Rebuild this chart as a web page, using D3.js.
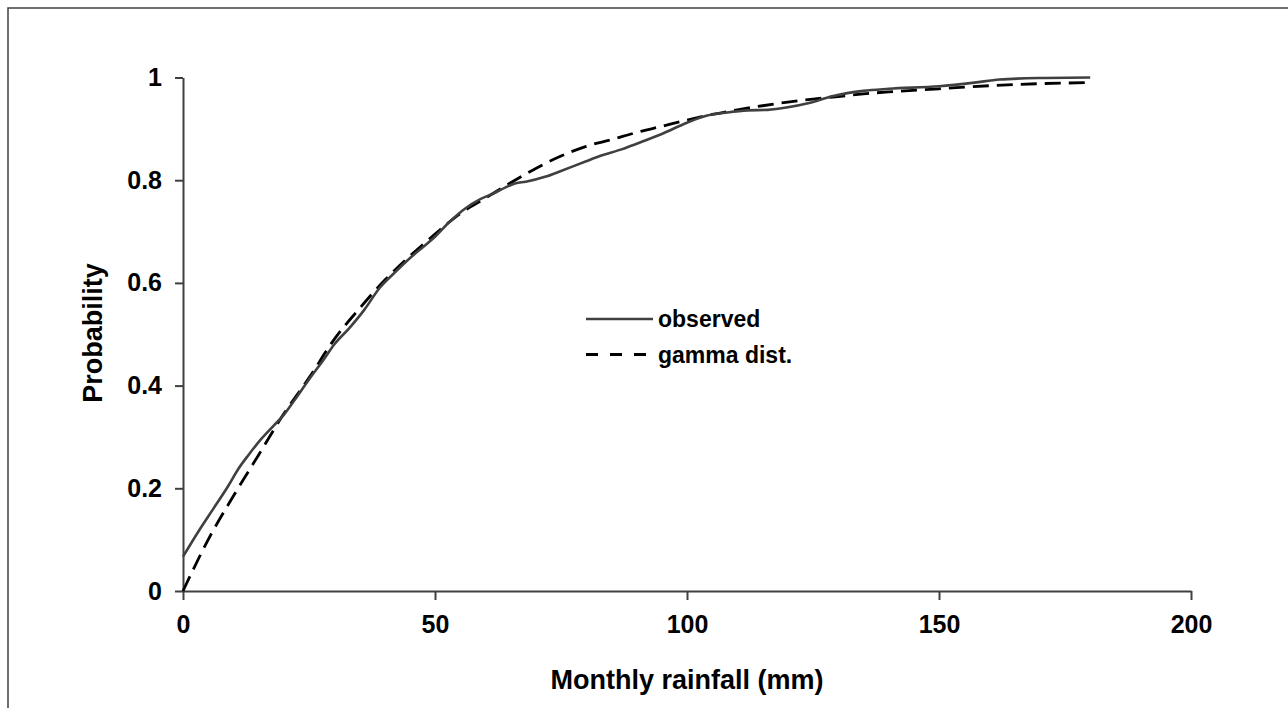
<!DOCTYPE html>
<html>
<head>
<meta charset="utf-8">
<script src="https://cdn.jsdelivr.net/npm/d3@7"></script>
<style>
  body { margin: 0; background: #fff; }
  svg { display: block; font-family: "Liberation Sans", Arial, sans-serif; }
</style>
</head>
<body>
<svg width="1288" height="708"></svg>
<script>
// monthly rainfall (mm) vs cumulative probability
var obsRain = [0, 3, 6, 9, 11, 13, 15, 18, 20, 22, 25, 28, 30, 33, 36, 39, 42, 45, 48, 50,
  53, 56, 59, 62, 64, 66, 68, 72, 75, 80, 83, 87, 90, 95, 100, 104, 108, 112, 116, 120,
  124, 129, 135, 140, 150, 157, 162, 170, 180];
var obsProb = [0.067, 0.115, 0.16, 0.205, 0.238, 0.265, 0.29, 0.322, 0.343, 0.37, 0.412, 0.452, 0.48, 0.512, 0.548, 0.59, 0.62, 0.648, 0.673, 0.69,
  0.72, 0.745, 0.763, 0.776, 0.786, 0.794, 0.797, 0.807, 0.818, 0.837, 0.848, 0.86, 0.871, 0.89, 0.912, 0.926, 0.932, 0.936, 0.937, 0.942,
  0.95, 0.964, 0.974, 0.978, 0.983, 0.99, 0.996, 0.999, 1.0];

var gamRain = [0, 5, 10, 15, 20, 25, 30, 35, 40, 45, 50, 55, 60, 65, 70, 75, 80, 85, 90,
  95, 100, 105, 110, 115, 120, 125, 130, 135, 140, 150, 160, 170, 180];
var gamProb = [0, 0.1, 0.185, 0.265, 0.345, 0.415, 0.49, 0.55, 0.605, 0.652, 0.695, 0.735, 0.765, 0.795, 0.823, 0.847, 0.866, 0.879, 0.893,
  0.905, 0.917, 0.928, 0.937, 0.945, 0.952, 0.958, 0.963, 0.968, 0.972, 0.978, 0.984, 0.988, 0.99];

var xTicks = [0, 50, 100, 150, 200];
var yTicks = [0, 0.2, 0.4, 0.6, 0.8, 1];
var legendNames = ["observed", "gamma dist."];

var svg = d3.select("svg");

var x = d3.scaleLinear().domain([0, 200]).range([183, 1191]);
var y = d3.scaleLinear().domain([0, 1]).range([591, 77.5]);

// outer chart frame
svg.append("rect")
    .attr("x", 8).attr("y", 8)
    .attr("width", 1300).attr("height", 720)
    .attr("fill", "none")
    .attr("stroke", "#404040")
    .attr("stroke-width", 1.5);

var axisColor = "#404040";

var yAxis = svg.append("g")
    .attr("transform", "translate(" + x(0) + ",0)")
    .call(d3.axisLeft(y).tickValues(yTicks).tickSize(8).tickSizeOuter(0).tickPadding(13)
      .tickFormat(d3.format("")));

var xAxis = svg.append("g")
    .attr("transform", "translate(0," + y(0) + ")")
    .call(d3.axisBottom(x).tickValues(xTicks).tickSize(9).tickSizeOuter(0).tickPadding(15));

[xAxis, yAxis].forEach(function(g) {
  g.select(".domain").attr("stroke", axisColor).attr("stroke-width", 2);
  g.selectAll(".tick line").attr("stroke", axisColor).attr("stroke-width", 2);
  g.selectAll(".tick text")
      .attr("fill", "#000")
      .style("font", "bold 25px 'Liberation Sans', Arial, sans-serif");
});

// axis titles
svg.append("text")
    .attr("x", 687).attr("y", 689)
    .attr("text-anchor", "middle")
    .style("font", "bold 27px 'Liberation Sans', Arial, sans-serif")
    .text("Monthly rainfall (mm)");

svg.append("text")
    .attr("transform", "translate(102,333) rotate(-90)")
    .attr("text-anchor", "middle")
    .style("font", "bold 27px 'Liberation Sans', Arial, sans-serif")
    .text("Probability");

var line = d3.line()
    .x(function(d) { return x(d[0]); })
    .y(function(d) { return y(d[1]); })
    .curve(d3.curveMonotoneX);

var gamData = gamRain.map(function(r, i) { return [r, gamProb[i]]; });
var obsData = obsRain.map(function(r, i) { return [r, obsProb[i]]; });

svg.append("path")
    .datum(gamData)
    .attr("d", line)
    .attr("fill", "none")
    .attr("stroke", "#000")
    .attr("stroke-width", 2.8)
    .attr("stroke-dasharray", "16,8");

svg.append("path")
    .datum(obsData)
    .attr("d", line)
    .attr("fill", "none")
    .attr("stroke", "#404040")
    .attr("stroke-width", 2.6);

// legend
var legend = svg.append("g").attr("class", "legend");
legend.selectAll("line")
    .data(legendNames)
    .enter().append("line")
    .attr("x1", 586).attr("x2", 653)
    .attr("y1", function(d, i) { return 319 + i * 35.5; })
    .attr("y2", function(d, i) { return 319 + i * 35.5; })
    .attr("stroke", function(d, i) { return i == 0 ? "#404040" : "#000"; })
    .attr("stroke-width", function(d, i) { return i == 0 ? 2.6 : 2.8; })
    .attr("stroke-dasharray", function(d, i) { return i == 0 ? null : "12,12"; });

legend.selectAll("text")
    .data(legendNames)
    .enter().append("text")
    .attr("x", 658)
    .attr("y", function(d, i) { return 319 + i * 35.5; })
    .attr("dy", "0.35em")
    .style("font", "bold 23px 'Liberation Sans', Arial, sans-serif")
    .text(function(d) { return d; });
</script>
</body>
</html>
